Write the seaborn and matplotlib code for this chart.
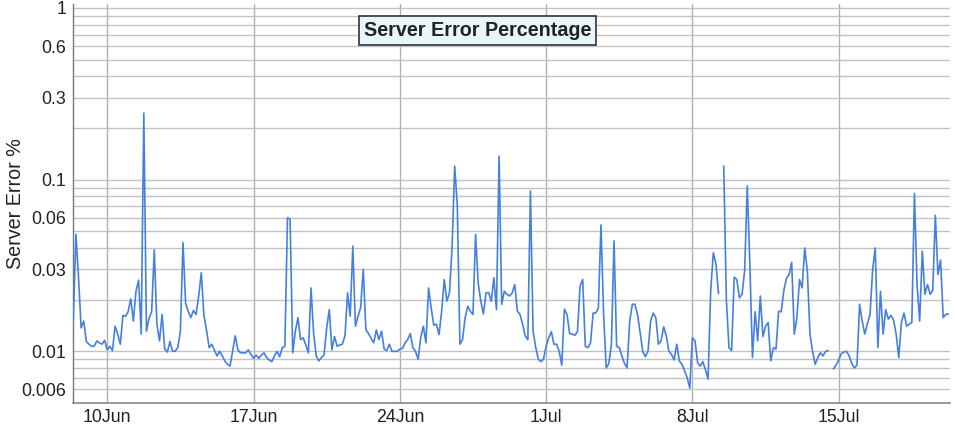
import numpy as np
import pandas as pd
import matplotlib
matplotlib.use('Agg')
import matplotlib.pyplot as plt
import seaborn as sns
from matplotlib.ticker import FixedLocator, LogLocator, NullFormatter

# ---- data (3-hour samples, NaN = gap in data) ----
start_time = '2019-06-08 09:00'
sample_freq = '3h'
nan = np.nan
error_pct = [
    0.015, 0.048, 0.027, 0.0137, 0.015, 0.0114, 0.011, 0.0107, 0.0107, 0.0115,
    0.0112, 0.011, 0.0116, 0.0102, 0.0107, 0.0101, 0.014, 0.0126, 0.011, 0.0162,
    0.016, 0.017, 0.0202, 0.015, 0.0224, 0.026, 0.0126, 0.244, 0.0131, 0.0156,
    0.017, 0.039, 0.0144, 0.0115, 0.0164, 0.0103, 0.0099, 0.0114, 0.0100, 0.0100,
    0.0105, 0.0131, 0.043, 0.019, 0.0171, 0.0157, 0.0173, 0.0164, 0.021, 0.0287,
    0.0162, 0.0133, 0.0105, 0.011, 0.0102, 0.0094, 0.010, 0.0094, 0.0088, 0.0084,
    0.0082, 0.010, 0.0123, 0.0102, 0.0098, 0.0098, 0.0098, 0.0102, 0.0096, 0.0091,
    0.0095, 0.0091, 0.0095, 0.0098, 0.0092, 0.0089, 0.0087, 0.0094, 0.010, 0.0093,
    0.0105, 0.0107, 0.060, 0.059,
    0.0098, 0.0131, 0.0157, 0.0117, 0.012, 0.0109, 0.0098, 0.0234, 0.0127, 0.0094,
    0.0088, 0.0092, 0.0095, 0.0137, 0.0175, 0.0102, 0.0122, 0.0107, 0.0109, 0.011,
    0.0123, 0.0219, 0.016, 0.041, 0.014, 0.016, 0.018, 0.030, 0.0134, 0.0127,
    0.0119, 0.0112, 0.0133, 0.0117, 0.0131, 0.0103, 0.0101, 0.011, 0.0100, 0.0100,
    0.0100, 0.0103, 0.0104, 0.0112, 0.0117, 0.0127, 0.0105, 0.0100, 0.009, 0.012,
    0.014, 0.0112, 0.0234, 0.0179, 0.0142, 0.0144, 0.0125, 0.0171, 0.0262, 0.0196,
    0.0219, 0.040, 0.120, 0.071, 0.011, 0.0117, 0.0157, 0.0183, 0.0171, 0.0164,
    0.048, 0.025, 0.0196, 0.0165, 0.0219, 0.022, 0.0196, 0.0268, 0.0175, 0.137,
    0.0188, 0.0224, 0.0215, 0.021,
    0.0219, 0.0245, 0.0171, 0.0164, 0.0144, 0.0123, 0.0117, 0.086, 0.0131, 0.0106,
    0.009, 0.0087, 0.009, 0.0107, 0.012, 0.013, 0.011, 0.011, 0.010, 0.0083,
    0.0176, 0.0164, 0.0127, 0.0126, 0.0124, 0.013, 0.024, 0.0262, 0.0107, 0.0105,
    0.0112, 0.0167, 0.0167, 0.0179, 0.0545, 0.0167, 0.0080, 0.0085, 0.011, 0.044,
    0.0107, 0.0105, 0.0094, 0.0085, 0.0080, 0.015, 0.0188, 0.0188, 0.0164, 0.0128,
    0.010, 0.0093, 0.010, 0.015, 0.0167, 0.0157, 0.011, 0.0115, 0.0139, 0.0123,
    0.010, 0.0096, 0.0089, 0.011, 0.0088, 0.0084, 0.0077, 0.0070, 0.0061, 0.012,
    0.0115, 0.0086, 0.0082, 0.0087, 0.0078, 0.0069, 0.0224, 0.0375, 0.0325, 0.0217,
    nan, 0.120, 0.020, 0.0105, 0.0101,
    0.027, 0.0262, 0.0205, 0.0215, 0.0295, 0.092, 0.032, 0.0092, 0.017, 0.0115,
    0.021, 0.0122, 0.014, 0.0147, 0.0088, 0.0105, 0.0103, 0.0171, 0.017, 0.0226,
    0.0266, 0.028, 0.033, 0.0126, 0.0157, 0.0262, 0.0234, 0.040, 0.0295, 0.0126,
    0.010, 0.0084, 0.0092, 0.0098, 0.0094, 0.010, 0.0101, nan, 0.0079, 0.0083,
    0.0089, 0.0097, 0.0099, 0.010, 0.0094, 0.0085, 0.008, 0.0083, 0.0188, 0.015,
    0.0126, 0.0145, 0.0164, 0.030, 0.040, 0.0105, 0.0224, 0.0126, 0.0175, 0.0154,
    0.0162, 0.0152, 0.0126, 0.0092, 0.0147, 0.0167, 0.014, 0.0144, 0.0147, 0.083,
    0.0245, 0.015, 0.0384, 0.0215, 0.0245, 0.0215, 0.0226, 0.062, 0.028, 0.034,
    0.0157, 0.0164, 0.0165,
]
x_tick_dates = ['2019-06-10', '2019-06-17', '2019-06-24', '2019-07-01', '2019-07-08', '2019-07-15']
x_tick_labels = ['10Jun', '17Jun', '24Jun', '1Jul', '8Jul', '15Jul']
y_ticks = [0.006, 0.01, 0.03, 0.06, 0.1, 0.3, 0.6, 1]
y_tick_labels = ['0.006', '0.01', '0.03', '0.06', '0.1', '0.3', '0.6', '1']
x_range = ('2019-06-08 08:40', '2019-07-20 07:50')
y_range = (0.005, 1.055)

times = pd.date_range(start_time, periods=len(error_pct), freq=sample_freq)
df = pd.DataFrame({'time': times, 'err': error_pct})
df['seg'] = df['err'].isna().cumsum()
df = df.dropna()

sns.set_theme(style='white')
plt.rcParams['font.family'] = ['Liberation Sans', 'DejaVu Sans']

W, H = 955, 428
fig = plt.figure(figsize=(W / 100, H / 100), dpi=100)
ax = fig.add_axes([73 / W, 1 - 403 / H, (950 - 73) / W, (403 - 4) / H])
ax.set_yscale('log')

sns.lineplot(data=df, x='time', y='err', units='seg', estimator=None,
             color='#4580e0', linewidth=1.2, ax=ax, zorder=3)

ax.set_ylim(*y_range)
ax.set_xlim(pd.Timestamp(x_range[0]), pd.Timestamp(x_range[1]))

ax.yaxis.set_major_locator(FixedLocator(y_ticks))
ax.set_yticklabels(y_tick_labels)
ax.yaxis.set_minor_locator(LogLocator(base=10, subs=np.arange(1, 10)))
ax.yaxis.set_minor_formatter(NullFormatter())
ax.set_xticks(pd.to_datetime(x_tick_dates))
ax.set_xticklabels(x_tick_labels)

ax.grid(which='minor', axis='y', color='#c2c2c2', linewidth=1.0)
ax.grid(which='major', axis='y', color='#c2c2c2', linewidth=1.0)
ax.grid(which='major', axis='x', color='#b0b0b0', linewidth=1.0)
ax.set_axisbelow(True)

ax.tick_params(axis='both', which='both', length=0, labelsize=12.8, colors='#222222')
ax.tick_params(axis='y', pad=5)
ax.tick_params(axis='x', pad=4)

for s in ['top', 'right']:
    ax.spines[s].set_visible(False)
ax.spines['left'].set_color('#777777')
ax.spines['bottom'].set_color('#888888')
ax.spines['left'].set_linewidth(1.0)
ax.spines['bottom'].set_linewidth(1.2)

ax.set_xlabel('')
ax.set_ylabel('Server Error %', fontsize=14.2, color='#222222', labelpad=-3)

fig.text(0.5, 1 - 30.5 / H, 'Server Error Percentage', ha='center', va='center',
         fontsize=14.2, fontweight='bold', color='#222222', zorder=10,
         bbox=dict(boxstyle='square,pad=0.25', fc='#e8f5fa', ec='#333333', lw=1.2))

fig.savefig('out.png', dpi=100)
